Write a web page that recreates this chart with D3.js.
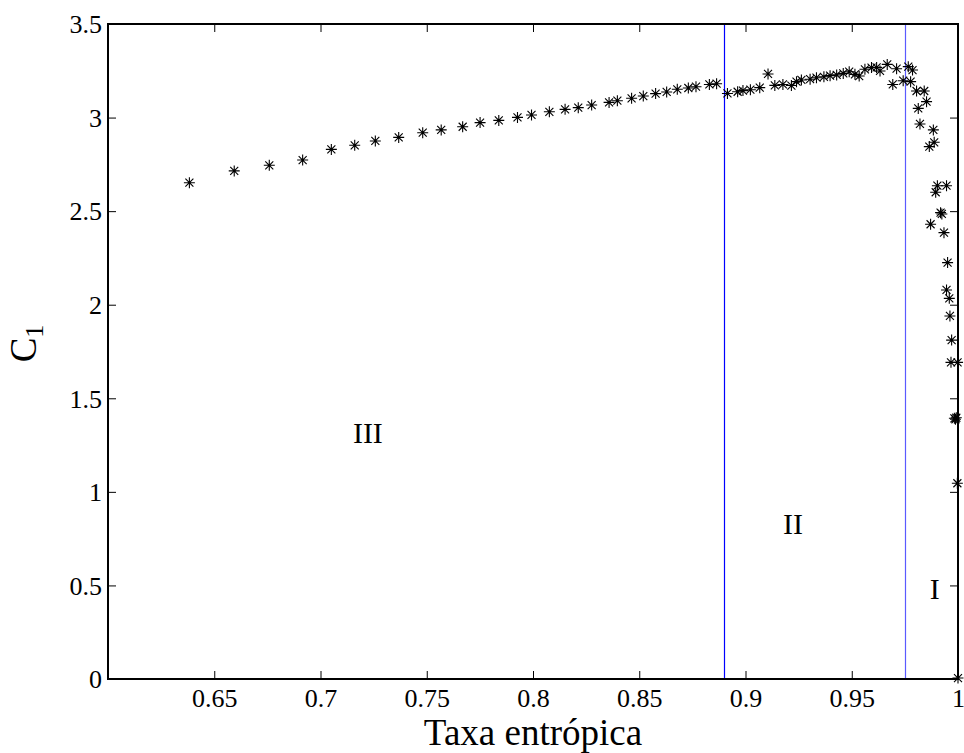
<!DOCTYPE html>
<html><head><meta charset="utf-8">
<script src="https://cdn.jsdelivr.net/npm/d3@7"></script>
<style>body{margin:0;background:#fff}svg{display:block}svg text{font-family:"Liberation Serif",serif !important;fill:#000}</style>
</head><body>
<svg id="c" width="964" height="753"></svg>
<script>
const entropyRate = [0.6383,0.6594,0.6759,0.6916,0.7051,0.7161,0.7258,0.7368,0.7481,0.7568,0.7669,0.7751,0.7839,0.7927,0.7993,0.8077,0.8151,0.8213,0.8276,0.8358,0.8397,0.8464,0.8519,0.8577,0.8629,0.8679,0.8731,0.8767,0.8830,0.8864,0.8915,0.8963,0.8988,0.9023,0.9067,0.9106,0.9138,0.9176,0.9216,0.9240,0.9263,0.9304,0.9334,0.9369,0.9398,0.9429,0.9460,0.9488,0.9515,0.9535,0.9562,0.9593,0.9617,0.9633,0.9667,0.9693,0.9711,0.9742,0.9766,0.9777,0.9786,0.9805,0.9841,0.9852,0.9813,0.9821,0.9884,0.9888,0.9865,0.9903,0.9895,0.9946,0.9918,0.9924,0.9871,0.9934,0.9951,0.9946,0.9959,0.9962,0.9970,0.9967,0.9998,0.9983,0.9988,0.9992,0.9997,1.0000];
const c1Values = [2.652,2.715,2.745,2.773,2.830,2.852,2.875,2.894,2.919,2.934,2.951,2.973,2.985,3.001,3.014,3.031,3.044,3.053,3.067,3.081,3.090,3.103,3.115,3.128,3.137,3.151,3.158,3.165,3.177,3.181,3.129,3.138,3.144,3.149,3.160,3.233,3.172,3.177,3.171,3.192,3.201,3.205,3.213,3.218,3.224,3.228,3.236,3.245,3.231,3.222,3.258,3.267,3.268,3.249,3.284,3.177,3.261,3.197,3.272,3.192,3.254,3.142,3.142,3.085,3.049,2.966,2.934,2.868,2.845,2.636,2.601,2.636,2.492,2.485,2.430,2.385,2.225,2.079,2.034,1.940,1.811,1.692,1.692,1.393,1.388,1.396,1.046,0.005];
const xTicks = [0.65,0.7,0.75,0.8,0.85,0.9,0.95,1];
const xTickLabels = ["0.65","0.7","0.75","0.8","0.85","0.9","0.95","1"];
const yTicks = [0,0.5,1,1.5,2,2.5,3,3.5];
const yTickLabels = ["0","0.5","1","1.5","2","2.5","3","3.5"];
const boundaries = [0.89,0.975];
const regionLabels = ["III","II","I"];
const regionX = [0.7223,0.9224,0.9890];
const regionY = [1.262,0.775,0.428];

const L=108,R=958,T=24,B=679;
const FONT='Liberation Serif';
const svg=d3.select("#c");
const x=d3.scaleLinear().domain([0.6,1]).range([L,R]);
const y=d3.scaleLinear().domain([0,3.5]).range([B,T]);

// boundaries
const bColors=["#0000ff","#5a5aff"];
svg.append("g").attr("class","bounds").selectAll("line").data(boundaries).join("line")
 .attr("x1",d=>Math.round(x(d))+0.5).attr("x2",d=>Math.round(x(d))+0.5)
 .attr("y1",T).attr("y2",B).attr("stroke",(d,i)=>bColors[i]).attr("stroke-width",1.2);

// axes
const tl=8;
const gB=svg.append("g").attr("transform",`translate(0,${B})`)
 .call(d3.axisBottom(x).tickValues(xTicks).tickFormat((d,i)=>xTickLabels[i]).tickSizeInner(-tl).tickSizeOuter(0).tickPadding(10));
const gT=svg.append("g").attr("transform",`translate(0,${T})`)
 .call(d3.axisTop(x).tickValues(xTicks).tickFormat("").tickSizeInner(-tl).tickSizeOuter(0));
const gL=svg.append("g").attr("transform",`translate(${L},0)`)
 .call(d3.axisLeft(y).tickValues(yTicks).tickFormat((d,i)=>yTickLabels[i]).tickSizeInner(-tl).tickSizeOuter(0).tickPadding(6));
const gR=svg.append("g").attr("transform",`translate(${R},0)`)
 .call(d3.axisRight(y).tickValues(yTicks).tickFormat("").tickSizeInner(-tl).tickSizeOuter(0));
[gB,gT,gL,gR].forEach(g=>{g.attr("font-family",null).attr("font-size",null);
 g.select(".domain").remove();g.selectAll(".tick line").attr("stroke","#000").attr("stroke-width",1);
 g.selectAll("text").style("font-family",FONT).style("font-size","26px").attr("fill","#000");});
gB.selectAll("text").attr("dy","0.71em");
gL.selectAll("text").attr("dy","0.34em");
svg.append("rect").attr("x",L).attr("y",T).attr("width",R-L).attr("height",B-T)
 .attr("fill","none").attr("stroke","#000").attr("stroke-width",2);

// markers
const r=5.5,dd=4;
const star=`M${-r},0L${r},0M0,${-r}L0,${r}M${-dd},${-dd}L${dd},${dd}M${-dd},${dd}L${dd},${-dd}`;
svg.append("g").selectAll("path").data(entropyRate.map((v,i)=>[v,c1Values[i]])).join("path")
 .attr("transform",d=>`translate(${x(d[0])},${y(d[1])})`).attr("d",star)
 .attr("stroke","#000").attr("stroke-width",1.1).attr("fill","none");

// region labels
svg.append("g").selectAll("text").data(regionLabels).join("text")
 .attr("x",(d,i)=>x(regionX[i])).attr("y",(d,i)=>y(regionY[i])).attr("text-anchor","middle")
 .style("font-size","30px").text(d=>d);

// axis titles
svg.append("text").attr("x",(L+R)/2).attr("y",745).attr("text-anchor","middle")
 .style("font-size","37px").text("Taxa entrópica");
const yl=svg.append("text").attr("transform",`translate(36,${(T+B)/2-8}) rotate(-90)`).attr("text-anchor","middle")
 .style("font-size","37px");
yl.append("tspan").text("C");
yl.append("tspan").attr("dy","0.28em").style("font-size","26px").text("1");
</script>
</body></html>
